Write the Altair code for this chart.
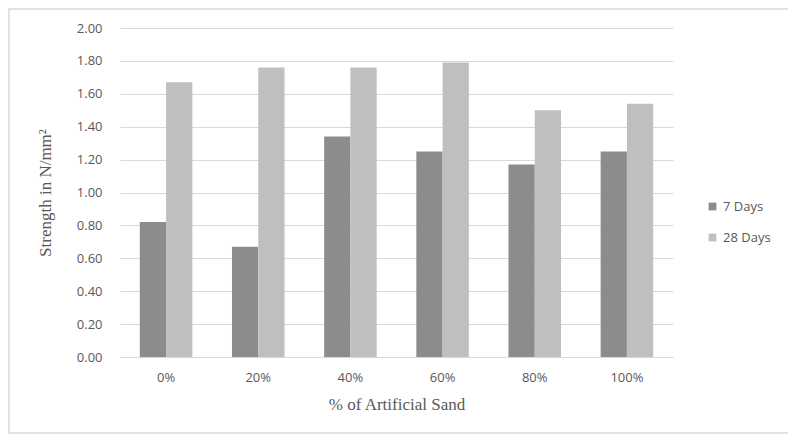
import altair as alt
import pandas as pd

categories = ["0%", "20%", "40%", "60%", "80%", "100%"]
series = ["7 Days", "28 Days"]
days7 = [0.82, 0.67, 1.34, 1.25, 1.17, 1.25]
days28 = [1.67, 1.76, 1.76, 1.79, 1.50, 1.54]

rows = []
for c, a, b in zip(categories, days7, days28):
    rows.append({"cat": c, "series": "7 Days", "value": a})
    rows.append({"cat": c, "series": "28 Days", "value": b})
df = pd.DataFrame(rows)

bars = alt.Chart(df).mark_bar().encode(
    x=alt.X("cat:N", sort=categories,
            scale=alt.Scale(paddingInner=0.43, paddingOuter=0.215),
            axis=alt.Axis(title="% of Artificial Sand", labelAngle=0, ticks=False,
                          domain=True, domainColor="#d9d9d9", labelPadding=14,
                          labelFontSize=13, labelColor="#595959", labelFont="Open Sans",
                          titleFont="Liberation Serif", titleFontSize=17,
                          titleFontWeight="normal", titleColor="#595959", titlePadding=12)),
    xOffset=alt.XOffset("series:N", sort=series),
    y=alt.Y("value:Q", scale=alt.Scale(domain=[0, 2]),
            axis=alt.Axis(title="Strength in N/mm²", values=[i / 5 for i in range(11)],
                          format=".2f", ticks=False, domain=False, grid=True,
                          gridColor="#d9d9d9", labelPadding=18, labelFontSize=13,
                          labelColor="#595959", labelFont="Open Sans",
                          titleFont="Liberation Serif", titleFontSize=17,
                          titleFontWeight="normal", titleColor="#595959", titlePadding=22)),
    color=alt.Color("series:N", sort=series,
                    scale=alt.Scale(domain=series, range=["#8c8c8c", "#bfbfbf"]),
                    legend=alt.Legend(title=None, orient="none", legendX=586, legendY=172,
                                      symbolType="square", symbolSize=60, rowPadding=17,
                                      labelFontSize=13, labelColor="#595959",
                                      labelFont="Open Sans", symbolStrokeWidth=0)),
)

border = alt.Chart(pd.DataFrame({"a": [0]})).mark_rect(
    fill=None, stroke="#d9d9d9", strokeWidth=1.5
).encode(x=alt.value(-111), x2=alt.value(720), y=alt.value(-19), y2=alt.value(405))

chart = alt.layer(border, bars).properties(
    width=553, height=329,
    autosize=alt.AutoSizeParams(type="none"),
    padding={"left": 112, "top": 20, "right": 115, "bottom": 77},
).configure_view(stroke=None)

chart.save("out.html", embed_options={"renderer": "svg", "actions": False})
